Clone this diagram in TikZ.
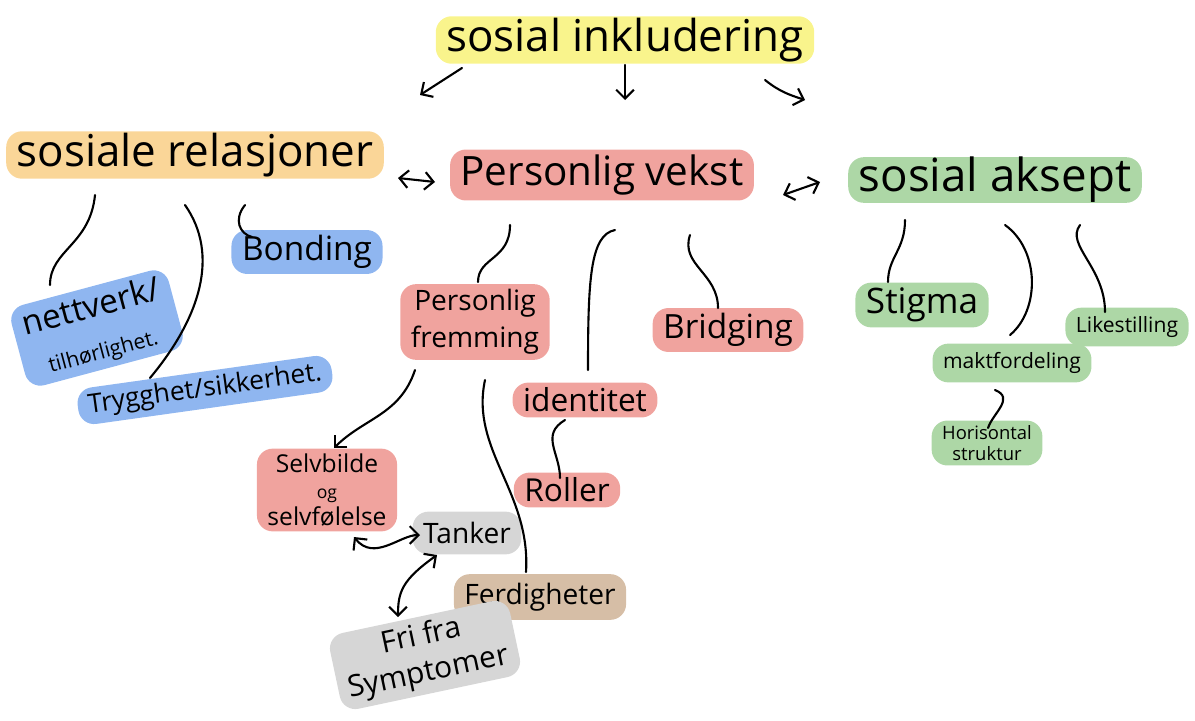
\documentclass[tikz,border=0pt]{standalone}
\usepackage{fontspec}
\setmainfont{Open Sans}
\usetikzlibrary{calc}
\usetikzlibrary{arrows.meta}

\definecolor{hlyellow}{RGB}{249,244,140}
\definecolor{hlorange}{RGB}{250,214,152}
\definecolor{hlred}{RGB}{240,163,158}
\definecolor{hlgreen}{RGB}{173,215,166}
\definecolor{hlblue}{RGB}{143,182,240}
\definecolor{hlgrey}{RGB}{214,214,214}
\definecolor{hltan}{RGB}{214,190,166}

\begin{document}
\begin{tikzpicture}[x=0.02cm,y=-0.02cm,
    hl/.style={fill=#1,rounded corners=9pt,inner xsep=6pt,inner ysep=3pt,align=center},
    fs/.style={font=\fontsize{#1}{#1}\selectfont},
    link/.style={line width=1.2pt,line cap=round},
    arr/.style={link,-{Straight Barb[length=5pt,width=10pt]}},
    darr/.style={link,{Straight Barb[length=5pt,width=10pt]}-{Straight Barb[length=5pt,width=10pt]}}]
    \useasboundingbox (0,0) rectangle (1195,720);

    % main topics
    \node[hl=hlyellow,fs=25,inner ysep=1pt] (incl) at (625,40) {sosial inkludering};
    \node[hl=hlorange,fs=25,inner ysep=1pt] (rel) at (195,155) {sosiale relasjoner};
    \node[hl=hlred,fs=23] (vekst) at (602,175) {Personlig vekst};
    \node[hl=hlgreen,fs=26,inner ysep=0pt] (aksept) at (995,180) {sosial aksept};

    % sosiale relasjoner
    \node[hl=hlblue,fs=19] (bond) at (307,252) {Bonding};
    \node[hl=hlblue,fs=19,rotate=15] (nett) at (97,328) {nettverk/\\[5pt]{\fontsize{12}{12}\selectfont tilhørlighet.}};
    \node[hl=hlblue,fs=15,rotate=8] (tryg) at (205,390) {Trygghet/sikkerhet.};

    % personlig vekst
    \node[hl=hlred,fs=16] (pfrem) at (475,322) {Personlig\\[4pt]fremming};
    \node[hl=hlred,fs=19] (bridge) at (728,330) {Bridging};
    \node[hl=hlred,fs=18] (ident) at (585,400) {identitet};
    \node[hl=hlred,fs=18] (roller) at (567,490) {Roller};
    \node[hl=hlred,fs=14] (selv) at (327,490) {Selvbilde\\[1pt]{\fontsize{10}{10}\selectfont og}\\[1pt]selvfølelse};
    \node[hl=hlgrey,fs=16,inner ysep=6pt] (tank) at (467,533) {Tanker};
    \node[hl=hltan,fs=16,inner ysep=5pt] (ferd) at (540,597) {Ferdigheter};
    \node[hl=hlgrey,fs=17,rotate=12] (fri) at (425,655) {Fri fra\\[4pt]Symptomer};

    % sosial aksept
    \node[hl=hlgreen,fs=20] (stig) at (922,305) {Stigma};
    \node[hl=hlgreen,fs=12,inner ysep=5pt] (likest) at (1127,327) {Likestilling};
    \node[hl=hlgreen,fs=12,inner ysep=5pt] (makt) at (1012,363) {maktfordeling};
    \node[hl=hlgreen,fs=10.5] (horis) at (987,443) {Horisontal\\[1pt]struktur};

    % arrows from the top
    \draw[arr] ($(incl)+(-163,28)$) -- ($(rel)+(225,-60)$);
    \draw[arr] ($(incl)+(0,25)$) -- ($(vekst)+(23,-75)$);
    \draw[arr] ($(incl)+(140,40)$) .. controls +(15,12) and +(-15,-5) .. ($(aksept)+(-190,-80)$);
    \draw[darr] ($(rel)+(203,23)$) -- ($(vekst)+(-167,7)$);
    \draw[darr] ($(vekst)+(181,20)$) -- ($(aksept)+(-175,2)$);

    % branches
    \draw[link] ($(rel)+(-100,40)$) .. controls +(-5,50) and +(0,-35) .. ($(nett)+(-47,-43)$);
    \draw[link] ($(rel)+(-10,50)$) .. controls +(35,50) and +(50,-60) .. ($(tryg)+(-55,-12)$);
    \draw[link] ($(rel)+(50,50)$) .. controls +(-12,15) and +(-12,-3) .. ($(bond)+(-55,-15)$);
    \draw[link] ($(vekst)+(-92,50)$) .. controls +(0,35) and +(0,-25) .. ($(pfrem)+(3,-40)$);
    \draw[link] ($(vekst)+(13,55)$) .. controls +(-25,5) and +(0,-90) .. ($(ident)+(3,-30)$);
    \draw[link] ($(vekst)+(88,60)$) .. controls +(-10,30) and +(0,-35) .. ($(bridge)+(-10,-22)$);
    \draw[arr] ($(pfrem)+(-60,48)$) .. controls +(-15,45) and +(30,-30) .. ($(selv)+(7,-42)$);
    \draw[link] ($(pfrem)+(10,58)$) .. controls +(-15,70) and +(5,-80) .. ($(ferd)+(-14,-25)$);
    \draw[link] ($(ident)+(-20,20)$) .. controls +(-25,15) and +(0,-25) .. ($(roller)+(-7,-12)$);
    \draw[darr] ($(selv)+(27,47)$) .. controls +(20,25) and +(-20,0) .. ($(tank)+(-47,2)$);
    \draw[darr] ($(tank)+(-30,22)$) .. controls +(-35,25) and +(0,-25) .. ($(fri)+(-27,-38)$);
    \draw[link] ($(aksept)+(-90,40)$) .. controls +(0,30) and +(0,-25) .. ($(stig)+(-34,-23)$);
    \draw[link] ($(aksept)+(10,45)$) .. controls +(35,25) and +(30,-25) .. ($(makt)+(-2,-28)$);
    \draw[link] ($(aksept)+(85,45)$) .. controls +(-15,20) and +(0,-45) .. ($(likest)+(-22,-15)$);
    \draw[link] ($(makt)+(-17,27)$) .. controls +(20,8) and +(5,-15) .. ($(horis)+(1,-15)$);
\end{tikzpicture}
\end{document}
